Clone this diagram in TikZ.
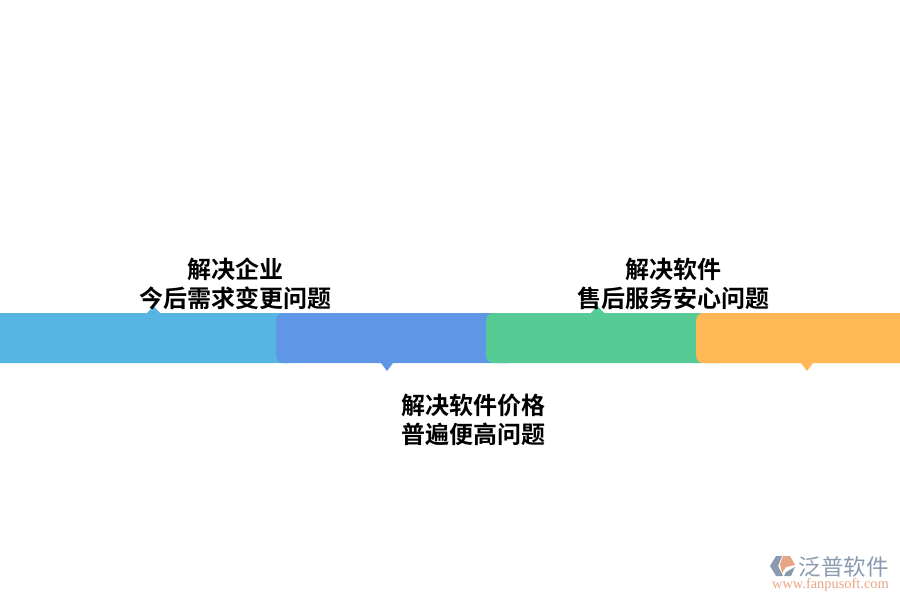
\documentclass[tikz,border=0pt]{standalone}
\usepackage{fontspec}
\setmainfont{Noto Sans CJK SC}[BoldFont={Noto Sans CJK SC Bold}]
\newfontfamily\logofont{Liberation Serif}
\usepackage{tikz}
\usetikzlibrary{positioning}

\definecolor{skyblue}{HTML}{56B5E3}
\definecolor{royal}{HTML}{5F96E6}
\definecolor{leaf}{HTML}{56CB96}
\definecolor{amber}{HTML}{FFB855}
\definecolor{logoblue}{HTML}{8A9AB0}
\definecolor{logoorange}{HTML}{E8A583}

\tikzset{
  bar/.style={rounded corners=7pt,minimum height=50pt,inner sep=0pt},
  tag/.style={font=\fontsize{24}{29}\selectfont\bfseries,align=center,inner sep=0pt,text=black},
}

\begin{document}
\begin{tikzpicture}[x=1pt,y=-1pt]
\useasboundingbox (0,0) rectangle (900,600);
% the four bars, each one lying over the one before
\node[bar,fill=skyblue,minimum width=320pt,anchor=west] (b1) at (-24,338) {};
\node[bar,fill=royal,minimum width=240pt,anchor=west] (b2) at (276,338) {};
\node[bar,fill=leaf,minimum width=240pt,anchor=west] (b3) at (486,338) {};
\node[bar,fill=amber,minimum width=230pt,anchor=west] (b4) at (696,338) {};
% pointers
\fill[skyblue] (147,313) -- (153.5,306) -- (160,313) -- cycle;
\fill[royal] (381,363) -- (387,371) -- (393,363) -- cycle;
\fill[leaf] (591,313) -- (597.5,306) -- (604,313) -- cycle;
\fill[amber] (801,363) -- (807,371) -- (813,363) -- cycle;
% labels
\node[tag] (t1) at (235,284) {解决企业\\今后需求变更问题};
\node[tag] (t2) at (473,420) {解决软件价格\\普遍便高问题};
\node[tag] (t3) at (673,284) {解决软件\\售后服务安心问题};
% logo
\fill[logoblue] (776,556) -- (782,556) -- (778,566) -- (783,576) -- (776,576) -- (770,566) -- cycle;
\fill[logoorange] (783,556) -- (790,556) -- (795,565) -- (786,567) -- (782,573) -- (780,564) -- cycle;
\fill[logoblue] (784,576) -- (791,576) -- (795,567) -- (786,572) -- cycle;
\node[inner sep=0pt,text=logoblue,font=\fontsize{22.5}{23}\selectfont] (l1) at (843.5,567) {泛普软件};
\node[inner sep=0pt,text=logoorange,font=\logofont\fontsize{14.4}{14}\selectfont] (l2) at (830.5,585) {www.fanpusoft.com};
\end{tikzpicture}
\end{document}
